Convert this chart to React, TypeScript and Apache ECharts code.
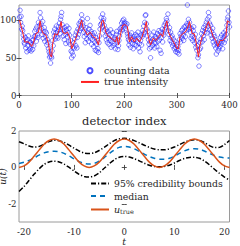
import React, { useEffect, useRef } from 'react';
import * as echarts from 'echarts';

// ---------- top panel data ----------
const counts = [
  104, 113, 97, 105, 88, 92, 86, 80, 75, 70, 68, 77, 63, 72, 58, 74, 66, 79, 60, 71,
  62, 70, 59, 67, 73, 61, 74, 66, 78, 85, 79, 88, 72, 91, 80, 77, 97, 86, 93, 110,
  103, 95, 89, 81, 98, 76, 84, 90, 72, 85, 78, 83, 67, 74, 70, 62, 58, 51, 55, 43,
  52, 50, 59, 73, 66, 84, 79, 88, 75, 83, 92, 78, 85, 76, 91, 87, 96, 82, 101, 105,
  110, 94, 88, 79, 86, 74, 90, 81, 69, 87, 92, 78, 83, 71, 89, 80, 68, 73, 59, 50,
  57, 64, 53, 70, 63, 75, 80, 66, 84, 63, 77, 88, 81, 95, 86, 93, 98, 89, 107, 101,
  96, 92, 84, 78, 87, 70, 90, 81, 75, 102, 83, 72, 88, 79, 93, 76, 85, 68, 82, 74,
  79, 65, 83, 71, 60, 77, 68, 59, 73, 62, 57, 70, 79, 88, 94, 103, 96, 91, 108, 99,
  102, 93, 86, 79, 88, 74, 82, 70, 85, 76, 68, 81, 73, 87, 64, 78, 71, 83, 66, 75,
  69, 77, 62, 74, 81, 85, 70, 61, 66, 73, 79, 88, 84, 90, 96, 87, 99, 92, 101, 95,
  97, 89, 93, 86, 95, 82, 78, 74, 67, 72, 80, 64, 77, 83, 69, 75, 62, 73, 78, 68,
  74, 81, 66, 79, 71, 84, 63, 76, 69, 58, 73, 80, 67, 78, 86, 81, 92, 84, 97, 106,
  107, 95, 88, 79, 85, 74, 68, 62, 71, 50, 64, 72, 80, 67, 75, 84, 70, 63, 78, 69,
  76, 65, 82, 72, 79, 86, 74, 60, 84, 56, 77, 88, 71, 83, 80, 93, 87, 96, 90, 102,
  99, 94, 108, 86, 81, 90, 73, 84, 77, 70, 79, 66, 75, 69, 62, 72, 64, 58, 67, 61,
  57, 65, 60, 55, 74, 82, 71, 79, 86, 76, 88, 80, 73, 91, 85, 78, 92, 87, 95, 120,
  93, 101, 88, 97, 90, 84, 76, 89, 79, 73, 86, 91, 77, 70, 81, 64, 72, 60, 66, 50,
  54, 39, 61, 70, 63, 75, 82, 71, 86, 79, 90, 74, 84, 93, 88, 97, 83, 101, 92, 110,
  104, 96, 87, 93, 80, 85, 76, 89, 71, 81, 67, 78, 74, 63, 55, 70, 66, 59, 68, 62,
  71, 65, 77, 69, 80, 72, 62, 76, 83, 70, 79, 74, 86, 81, 93, 100, 104, 112, 97, 91,
];

const trueIdx = [
  1, 2, 7, 11, 18, 24, 27, 32, 37, 40, 43, 46, 51, 56, 59, 62, 64, 68, 73, 77,
  80, 83, 88, 92, 97, 100, 103, 108, 111, 115, 119, 122, 127, 130, 135, 141, 146, 151, 154, 157,
  160, 165, 170, 176, 183, 186, 189, 193, 197, 202, 206, 210, 214, 219, 224, 229, 233, 238, 242, 244,
  248, 250, 255, 260, 265, 269, 273, 277, 281, 284, 288, 292, 297, 300, 303, 306, 311, 316, 320, 324,
  329, 333, 337, 341, 344, 348, 352, 356, 360, 364, 369, 374, 378, 382, 388, 393, 396, 400,
];
const trueVal = [
  100, 100, 84, 71, 71, 65, 69, 82, 84, 99, 87, 82, 80, 69, 54, 51, 69, 82, 80, 89,
  98, 84, 82, 84, 76, 62, 67, 76, 82, 91, 100, 89, 84, 80, 84, 78, 76, 67, 82, 98,
  100, 84, 78, 76, 71, 78, 67, 82, 93, 94, 91, 71, 78, 71, 76, 71, 76, 87, 98, 84,
  71, 67, 76, 73, 78, 82, 78, 91, 99, 84, 78, 73, 67, 62, 62, 78, 82, 84, 89, 98,
  82, 82, 69, 51, 67, 78, 82, 91, 98, 89, 78, 73, 65, 73, 73, 78, 99, 97,
];

const topXTicks = [0, 100, 200, 300, 400];
const topYTicks = [0, 50, 100];

// ---------- bottom panel data ----------
const tVals = [
  -21, -20, -19, -18, -17, -16, -15, -14, -13, -12, -11, -10, -9, -8, -7, -6, -5, -4, -3, -2, -1,
  0, 1, 2, 3, 4, 5, 6, 7, 8, 9, 10, 11, 12, 13, 14, 15, 16, 17, 18, 19, 20, 21,
];
const upperBound = [
  1.41, 1.30, 1.18, 1.12, 1.15, 1.28, 1.42, 1.49, 1.47, 1.38, 1.22, 1.05, 0.90, 0.79, 0.76, 0.80, 0.93, 1.10, 1.30, 1.47, 1.57,
  1.60, 1.56, 1.47, 1.35, 1.22, 1.10, 1.01, 0.97, 0.97, 1.02, 1.12, 1.25, 1.38, 1.48, 1.52, 1.48, 1.36, 1.20, 1.09, 1.10, 1.25, 1.48,
];
const medianVals = [
  0.22, 0.28, 0.38, 0.52, 0.67, 0.80, 0.87, 0.89, 0.86, 0.77, 0.63, 0.47, 0.32, 0.22, 0.18, 0.22, 0.35, 0.54, 0.76, 0.96, 1.10,
  1.15, 1.12, 1.02, 0.88, 0.73, 0.60, 0.50, 0.45, 0.45, 0.50, 0.62, 0.77, 0.91, 1.00, 1.03, 1.00, 0.90, 0.77, 0.65, 0.57, 0.53, 0.52,
];
const lowerBound = [
  -1.32, -1.05, -0.72, -0.38, -0.08, 0.16, 0.30, 0.34, 0.30, 0.18, 0.00, -0.20, -0.38, -0.50, -0.53, -0.47, -0.30, -0.05, 0.20, 0.42, 0.56,
  0.60, 0.57, 0.48, 0.36, 0.23, 0.12, 0.05, 0.03, 0.05, 0.12, 0.24, 0.38, 0.49, 0.55, 0.56, 0.50, 0.35, 0.14, -0.10, -0.33, -0.53, -0.70,
];
const uTrue = [
  0, 0.08, 0.29, 0.61, 0.95, 1.27, 1.48, 1.56, 1.48, 1.27, 0.95, 0.61, 0.29, 0.08, 0, 0.08, 0.29, 0.61, 0.95, 1.27, 1.48,
  1.56, 1.48, 1.27, 0.95, 0.61, 0.29, 0.08, 0, 0.08, 0.29, 0.61, 0.95, 1.27, 1.48, 1.56, 1.48, 1.27, 0.95, 0.61, 0.29, 0.08, 0,
];

const botXTicks = [-20, -10, 0, 10, 20];
const botYTicks = [-2, 0, 2];

const serif = 'DejaVu Serif';
const textCol = '#262626';
const frameCol = '#9a9a9a';

function axisPair(kind: 'x' | 'y', grid: number, min: number, max: number, ticks: number[], extra: any) {
  const main: any = {
    type: 'value',
    gridIndex: grid,
    min,
    max,
    position: kind === 'x' ? 'bottom' : 'left',
    axisLine: { show: false },
    splitLine: { show: false },
    axisTick: { show: true, inside: true, length: 2.5, customValues: ticks, lineStyle: { color: textCol, width: 0.8 } },
    axisLabel: { show: true, customValues: ticks, fontFamily: serif, fontSize: 8.6, color: textCol, margin: kind === 'x' ? 5 : 2.5 },
    ...extra,
  };
  const mirror: any = {
    type: 'value',
    gridIndex: grid,
    min,
    max,
    position: kind === 'x' ? 'top' : 'right',
    axisLine: { show: false },
    splitLine: { show: false },
    axisTick: { show: true, inside: true, length: 2.5, customValues: ticks, lineStyle: { color: textCol, width: 0.8 } },
    axisLabel: { show: false },
  };
  return [main, mirror];
}

export default function App() {
  const ref = useRef<HTMLDivElement>(null);
  useEffect(() => {
    if (!ref.current) return;
    const chart = echarts.init(ref.current, undefined, { renderer: 'svg' });
    const xAxes = [
      ...axisPair('x', 0, 0, 400, topXTicks, {
        name: 'detector index',
        nameLocation: 'middle',
        nameGap: 19,
        nameMoveOverlap: false,
        nameTextStyle: { fontFamily: serif, fontSize: 11.5, color: textCol },
      }),
      ...axisPair('x', 1, -21, 21, botXTicks, {
        name: 't',
        nameLocation: 'middle',
        nameGap: 15,
        nameMoveOverlap: false,
        nameTextStyle: { fontFamily: serif, fontSize: 9.5, fontStyle: 'italic', color: textCol, lineHeight: 9 },
      }),
    ];
    const yAxes = [
      ...axisPair('y', 0, 0, 120, topYTicks, {}),
      ...axisPair('y', 1, -3, 2, botYTicks, {
        name: 'u(t)',
        nameLocation: 'middle',
        nameGap: 11.5,
        nameRotate: 90,
        nameMoveOverlap: false,
        nameTextStyle: { fontFamily: serif, fontSize: 9, fontStyle: 'italic', color: textCol, lineHeight: 9 },
      }),
    ];
    const dashDot = [5, 2, 1.2, 2];
    const hidden = { opacity: 0 };
    chart.setOption({
      animation: false,
      backgroundColor: '#ffffff',
      textStyle: { fontFamily: serif },
      grid: [
        { left: 19, top: 5, width: 210.5, height: 90.5, outerBoundsMode: 'none', containLabel: false, show: true, borderColor: frameCol, borderWidth: 1, backgroundColor: 'transparent' },
        { left: 19, top: 131, width: 210.5, height: 91, outerBoundsMode: 'none', containLabel: false, show: true, borderColor: frameCol, borderWidth: 1, backgroundColor: 'transparent' },
      ],
      xAxis: xAxes,
      yAxis: yAxes,
      legend: [
        {
          data: ['counting data', { name: 'true intensity', itemStyle: hidden }],
          orient: 'vertical',
          left: 80,
          top: 65,
          padding: 0,
          itemWidth: 18,
          itemHeight: 5,
          itemGap: 0,
          textStyle: { fontFamily: serif, fontSize: 9.4, color: textCol, lineHeight: 11.3 },
        },
        {
          data: [
            { name: '95% credibility bounds', itemStyle: hidden },
            { name: 'median', itemStyle: hidden },
            { name: 'u_true', itemStyle: hidden },
          ],
          orient: 'vertical',
          left: 90,
          top: 178,
          padding: 0,
          itemWidth: 18,
          itemHeight: 9,
          itemGap: 1.5,
          formatter: (name: string) => (name === 'u_true' ? '{i|u}{s|true}' : name),
          textStyle: {
            fontFamily: serif,
            fontSize: 9.3,
            color: textCol,
            lineHeight: 11,
            rich: {
              i: { fontFamily: serif, fontSize: 9.5, fontStyle: 'italic', color: textCol, lineHeight: 11 },
              s: { fontFamily: serif, fontSize: 6.5, color: textCol, verticalAlign: 'bottom', lineHeight: 8, padding: [5, 0, 0, 0] },
            },
          },
        },
      ],
      series: [
        {
          name: 'counting data',
          type: 'scatter',
          xAxisIndex: 0,
          yAxisIndex: 0,
          symbol: 'circle',
          symbolSize: 4.5,
          clip: false,
          itemStyle: { color: 'rgba(0,0,0,0)', borderColor: '#2222ff', borderWidth: 0.7 },
          data: counts.map((v, k) => [k + 1, v]),
        },
        {
          name: 'true intensity',
          type: 'line',
          xAxisIndex: 0,
          yAxisIndex: 0,
          symbol: 'none',
          lineStyle: { color: '#ff2020', width: 1 },
          itemStyle: { color: '#ff2020' },
          data: trueIdx.map((x, k) => [x, trueVal[k]]),
        },
        {
          name: '95% credibility bounds',
          type: 'line',
          xAxisIndex: 2,
          yAxisIndex: 2,
          symbol: 'none',
          smooth: 0.3,
          lineStyle: { color: '#000000', width: 1.5, type: dashDot },
          itemStyle: { color: '#000000' },
          data: tVals.map((t, k) => [t, upperBound[k]]),
        },
        {
          name: '95% credibility bounds',
          type: 'line',
          xAxisIndex: 2,
          yAxisIndex: 2,
          symbol: 'none',
          smooth: 0.3,
          lineStyle: { color: '#000000', width: 1.5, type: dashDot },
          itemStyle: { color: '#000000' },
          data: tVals.map((t, k) => [t, lowerBound[k]]),
        },
        {
          name: 'median',
          type: 'line',
          xAxisIndex: 2,
          yAxisIndex: 2,
          symbol: 'none',
          smooth: 0.3,
          lineStyle: { color: '#0072BD', width: 1.5, type: [5, 4] },
          itemStyle: { color: '#0072BD' },
          data: tVals.map((t, k) => [t, medianVals[k]]),
        },
        {
          name: 'u_true',
          type: 'line',
          xAxisIndex: 2,
          yAxisIndex: 2,
          symbol: 'none',
          smooth: 0.3,
          lineStyle: { color: '#D95319', width: 1.5 },
          itemStyle: { color: '#D95319' },
          data: tVals.map((t, k) => [t, uTrue[k]]),
        },
      ],
    });
    return () => chart.dispose();
  }, []);
  return <div ref={ref} style={{ position: 'fixed', left: 0, top: 0, width: 240, height: 246 }} />;
}
